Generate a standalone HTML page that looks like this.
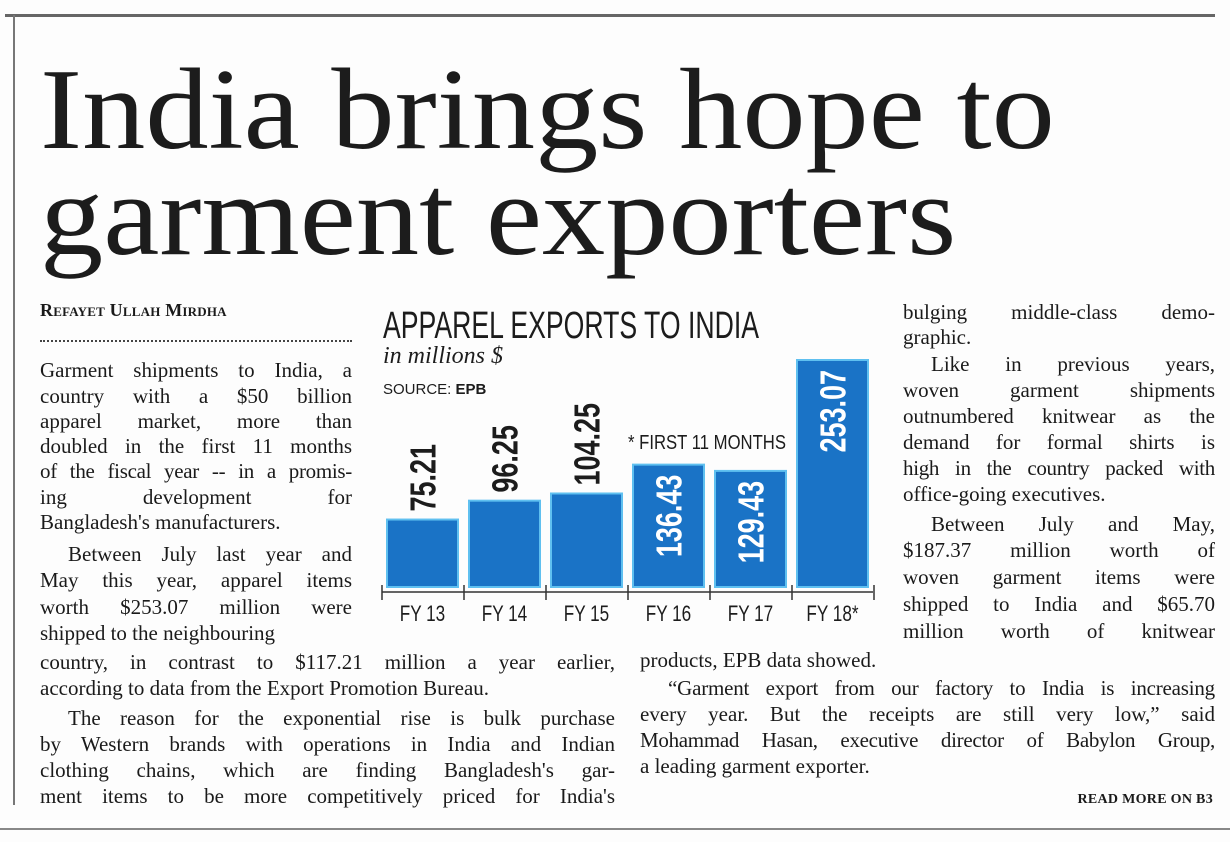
<!DOCTYPE html>
<html><head><meta charset="utf-8">
<style>
html,body{margin:0;padding:0;background:#fff;}
#page{position:relative;width:1230px;height:842px;overflow:hidden;background:#fdfdfd;font-family:"Liberation Serif",serif;color:#1a1a1a;}
.rule{position:absolute;background:#555;}
.head{position:absolute;left:40px;font-size:116px;line-height:1;white-space:nowrap;color:#1c1c1c;transform-origin:0 0;}
.ln{position:absolute;font-size:21px;line-height:24px;height:24px;text-align:justify;text-align-last:justify;white-space:normal;overflow:hidden;}
.l{left:40px;width:312px;}
.r{left:903px;width:312px;}
.bl{left:40px;width:575px;}
.br{left:640px;width:575px;}
</style></head>
<body>
<div id="page">
<div class="rule" style="left:5px;top:14px;width:1210px;height:3px;background:#666"></div>
<div class="rule" style="left:13px;top:15px;width:2px;height:790px;background:#777"></div>
<div class="rule" style="left:0;top:828px;width:1230px;height:2px;background:#888"></div>

<div class="head" style="top:52px;transform:scaleX(1.09)">India brings hope to</div>
<div class="head" style="top:158px;transform:scaleX(1.09)">garment exporters</div>

<div style="position:absolute;left:40px;top:300px;font-size:18px;font-weight:bold;font-variant:small-caps;letter-spacing:0.2px">Refayet Ullah Mirdha</div>
<div style="position:absolute;left:40px;top:340px;width:312px;border-top:2px dotted #444"></div>

<div class="ln l" style="top:358px">Garment shipments to India, a</div>
<div class="ln l" style="top:384px">country with a $50 billion</div>
<div class="ln l" style="top:409px">apparel market, more than</div>
<div class="ln l" style="top:434px">doubled in the first 11 months</div>
<div class="ln l" style="top:459px;letter-spacing:-0.3px">of the fiscal year -- in a promis-</div>
<div class="ln l" style="top:485px">ing development for</div>
<div class="ln l" style="top:510px;text-align-last:left">Bangladesh's manufacturers.</div>
<div class="ln l" style="top:542px;padding-left:28px;width:284px">Between July last year and</div>
<div class="ln l" style="top:568px">May this year, apparel items</div>
<div class="ln l" style="top:595px">worth $253.07 million were</div>
<div class="ln l" style="top:621px;text-align-last:left">shipped to the neighbouring</div>
<div class="ln bl" style="top:650px">country, in contrast to $117.21 million a year earlier,</div>
<div class="ln bl" style="top:676px;text-align-last:left">according to data from the Export Promotion Bureau.</div>
<div class="ln bl" style="top:706px;padding-left:28px;width:547px">The reason for the exponential rise is bulk purchase</div>
<div class="ln bl" style="top:732px">by Western brands with operations in India and Indian</div>
<div class="ln bl" style="top:758px">clothing chains, which are finding Bangladesh's gar-</div>
<div class="ln bl" style="top:784px">ment items to be more competitively priced for India's</div>

<div class="ln r" style="top:300px">bulging middle-class demo-</div>
<div class="ln r" style="top:325px;text-align-last:left">graphic.</div>
<div class="ln r" style="top:352px;padding-left:28px;width:284px">Like in previous years,</div>
<div class="ln r" style="top:378px">woven garment shipments</div>
<div class="ln r" style="top:404px">outnumbered knitwear as the</div>
<div class="ln r" style="top:430px">demand for formal shirts is</div>
<div class="ln r" style="top:456px;letter-spacing:-0.3px">high in the country packed with</div>
<div class="ln r" style="top:482px;text-align-last:left">office-going executives.</div>
<div class="ln r" style="top:512px;padding-left:28px;width:284px">Between July and May,</div>
<div class="ln r" style="top:538px">$187.37 million worth of</div>
<div class="ln r" style="top:565px">woven garment items were</div>
<div class="ln r" style="top:592px">shipped to India and $65.70</div>
<div class="ln r" style="top:619px">million worth of knitwear</div>
<div class="ln br" style="top:648px;text-align-last:left">products, EPB data showed.</div>
<div class="ln br" style="top:676px;padding-left:28px;width:547px;letter-spacing:-0.2px">“Garment export from our factory to India is increasing</div>
<div class="ln br" style="top:702px">every year. But the receipts are still very low,” said</div>
<div class="ln br" style="top:728px;letter-spacing:-0.3px">Mohammad Hasan, executive director of Babylon Group,</div>
<div class="ln br" style="top:754px;text-align-last:left">a leading garment exporter.</div>
<div style="position:absolute;right:17px;top:792px;font-size:14px;font-weight:bold;letter-spacing:0.3px">READ MORE ON B3</div>

<svg id="chart" width="1230" height="842" style="position:absolute;left:0;top:0">
</svg>
</div>
<script>
const categories = ["FY 13","FY 14","FY 15","FY 16","FY 17","FY 18*"];
const values = [75.21, 96.25, 104.25, 136.43, 129.43, 253.07];
const valueLabels = ["75.21","96.25","104.25","136.43","129.43","253.07"];

const svg = document.getElementById('chart');
const NS = 'http://www.w3.org/2000/svg';
const baseY = 587, pxPerUnit = 227/253.07, x0 = 382, pitch = 82, barW = 71;
const xPos = i => x0 + 5 + i*pitch;
const yPos = v => baseY - v*pxPerUnit;
function mk(tag, attrs){const e=document.createElementNS(NS,tag);for(const k in attrs)e.setAttribute(k,attrs[k]);svg.appendChild(e);return e;}
const cf = '"Liberation Sans",sans-serif';

let t = mk('text',{x:383,y:338,'font-family':cf,'font-size':38,fill:'#1c1c1c',textLength:376,lengthAdjust:'spacingAndGlyphs'});
t.textContent='APPAREL EXPORTS TO INDIA';


t = mk('text',{x:383,y:363,'font-family':'"Liberation Serif",serif','font-style':'italic','font-size':24,fill:'#1c1c1c'});
t.textContent='in millions $';


t = mk('text',{x:383,y:394,'font-family':'"Liberation Sans",sans-serif','font-size':15,fill:'#1c1c1c'});
t.innerHTML='SOURCE: <tspan font-weight="bold">EPB</tspan>';


t = mk('text',{x:628,y:449,'font-family':cf,'font-size':20,fill:'#1c1c1c',textLength:158,lengthAdjust:'spacingAndGlyphs'});
t.textContent='* FIRST 11 MONTHS';



let ax = mk('line',{x1:x0,y1:592,x2:x0+6*pitch-1,y2:592,stroke:'#333','stroke-width':1.5});


for(let i=0;i<=6;i++){
  const tk = mk('line',{x1:x0+i*pitch,y1:585,x2:x0+i*pitch,y2:600,stroke:'#333','stroke-width':1.5});
  
  
}
values.forEach((v,i)=>{
  const x=xPos(i), y=yPos(v);
  const r = mk('rect',{x:x,y:y,width:barW,height:baseY-y,fill:'#1a73c6',stroke:'#5fc0f0','stroke-width':2});
  
  
  const cx = x+barW/2;
  const inside = v > 120;
  const vl = mk('text',{x:0,y:0,'font-family':cf,'font-weight':'bold','font-size':36,fill:inside?'#ffffff':'#1c1c1c','text-anchor':inside?'end':'start',
    transform:`translate(${cx+13},${inside? y+10 : y-8}) rotate(-90) scale(0.75,1)`});
  vl.textContent = valueLabels[i];
  
  
  const cl = mk('text',{x:0,y:0,'font-family':cf,'font-size':22,fill:'#1c1c1c','text-anchor':'middle',
    transform:`translate(${cx},${621}) scale(0.78,1)`});
  cl.textContent = categories[i];
  
  
});
</script>
</body></html>
